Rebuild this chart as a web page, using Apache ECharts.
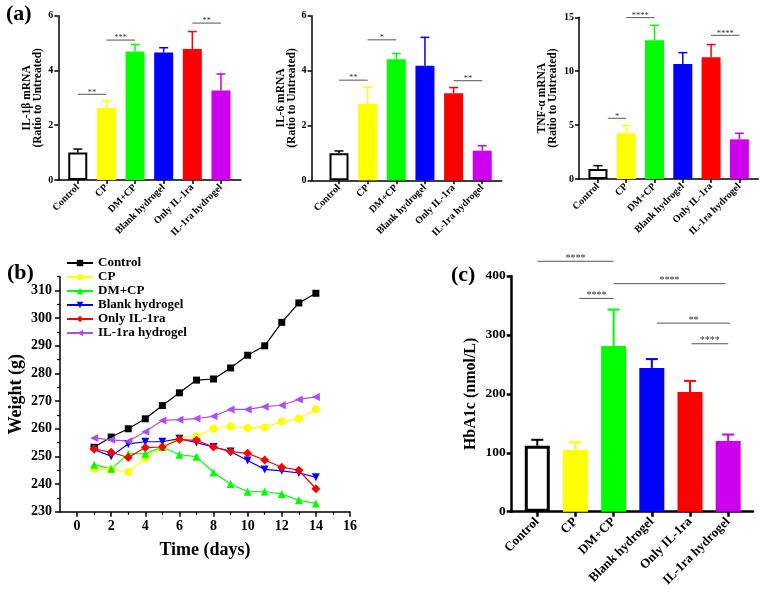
<!DOCTYPE html>
<html><head><meta charset="utf-8">
<script src="https://cdn.jsdelivr.net/npm/echarts@6/dist/echarts.min.js"></script>
<style>html,body{margin:0;padding:0;background:#fff}#c{width:762px;height:592px}</style>
</head><body><div id="c"></div>
<script>
// ---------- data ----------
const categories = ['Control', 'CP', 'DM+CP', 'Blank hydrogel', 'Only IL-1ra', 'IL-1ra hydrogel'];
const barColors = ['#FFFFFF', '#FFFF00', '#00FF00', '#0000FF', '#FF0000', '#CC00EE'];
const errColors = ['#000000', '#FFFF00', '#00FF00', '#0000FF', '#FF0000', '#CC00EE'];

const il1bMean = [1.0, 2.63, 4.69, 4.66, 4.78, 3.27];
const il1bUpper = [1.13, 2.90, 4.95, 4.83, 5.42, 3.87];
const il1bSig = [[0, 1, 3.13, '**'], [1, 2, 5.11, '***'], [4, 5, 5.73, '**']];

const il6Mean = [0.99, 2.78, 4.41, 4.18, 3.17, 1.08];
const il6Upper = [1.07, 3.39, 4.62, 5.21, 3.38, 1.26];
const il6Sig = [[0, 1, 3.65, '**'], [1, 2, 5.12, '*'], [4, 5, 3.63, '**']];

const tnfMean = [0.93, 4.24, 12.87, 10.67, 11.29, 3.68];
const tnfUpper = [1.24, 4.95, 14.26, 11.72, 12.47, 4.24];
const tnfSig = [[0.35, 1, 5.63, '*'], [1, 2, 14.97, '****'], [4, 5, 13.33, '****']];

const hba1cMean = [112, 105, 281, 244, 203, 120];
const hba1cUpper = [122, 118, 343, 259, 222, 131];
const hba1cSig = [[0, 2, 425, '****'], [2, 4.93, 387, '****'], [1.1, 2, 362, '****'], [3.13, 5.05, 320, '**'], [4.04, 5, 285, '****']];

const days = [1, 2, 3, 4, 5, 6, 7, 8, 9, 10, 11, 12, 13, 14];
const wControl = [253.3, 257, 260, 263.6, 268.4, 273, 277.6, 278, 282, 286.6, 290, 298.5, 305.5, 309];
const wCP = [245.5, 245.3, 244.4, 249.3, 253.4, 256.9, 257.2, 260, 260.8, 260.3, 260.5, 262.6, 263.6, 267.1];
const wDMCP = [247, 245.5, 250.9, 251, 253.4, 250.6, 249.9, 244.2, 240, 237.2, 237.3, 236.4, 234.1, 233];
const wBlank = [252.4, 250.1, 254.5, 255.3, 255.3, 256.4, 255, 253.4, 251.8, 248.5, 245.3, 244.8, 244, 242.5];
const wOnly = [252.7, 251.5, 249.6, 253.2, 253.4, 256.1, 255.8, 253.4, 251.8, 251.1, 248.7, 246.1, 245, 238.3];
const wHydro = [256.7, 256, 255.5, 258.9, 263, 263.3, 263.7, 264.5, 267, 267, 268, 268.5, 270.6, 271.5];
const weightTicksX = [0, 2, 4, 6, 8, 10, 12, 14, 16];
const weightMinorX = [1, 3, 5, 7, 9, 11, 13, 15];
const weightTicksY = [230, 240, 250, 260, 270, 280, 290, 300, 310];
const weightMinorY = [235, 245, 255, 265, 275, 285, 295, 305, 315];

// ---------- helpers ----------
const FONT = "'Liberation Serif','Times New Roman',serif";
const catIdx = [0, 1, 2, 3, 4, 5];

const grids = [], xAxes = [], yAxes = [], series = [];

function barPanel(p) {
  const gi = grids.length;
  grids.push(p.grid);
  const xi = xAxes.length, yi = yAxes.length;
  xAxes.push({
    type: 'value', gridIndex: gi, min: p.xMin, max: p.xMax,
    splitLine: { show: false },
    axisLine: { show: true, onZero: false, lineStyle: { color: '#000', width: p.lw } },
    axisTick: { show: true, customValues: catIdx, length: p.tick, lineStyle: { color: '#000', width: p.lw } },
    axisLabel: {
      customValues: catIdx, formatter: v => categories[v], rotate: 45, margin: p.xMargin,
      fontFamily: FONT, fontWeight: 'bold', fontSize: p.xFont, color: '#000'
    }
  });
  yAxes.push({
    type: 'value', gridIndex: gi, min: 0, max: p.yMax, interval: p.yInt,
    splitLine: { show: false },
    axisLine: { show: true, onZero: false, lineStyle: { color: '#000', width: p.lw } },
    axisTick: { show: true, length: p.tick, lineStyle: { color: '#000', width: p.lw } },
    axisLabel: { margin: p.yMargin, fontFamily: FONT, fontWeight: 'bold', fontSize: p.yFont, color: '#000' },
    name: p.name, nameLocation: 'middle', nameGap: p.nameGap,
    nameTextStyle: { fontFamily: FONT, fontWeight: 'bold', fontSize: p.nameFont, lineHeight: p.nameLH, color: '#000' }
  });
  series.push({
    type: 'bar', xAxisIndex: xi, yAxisIndex: yi, barWidth: p.barW, z: 2,
    data: p.mean.map((m, i) => ({
      value: [i, m],
      itemStyle: i === 0 ? { color: '#FFFFFF', borderColor: '#000', borderWidth: p.lw + 0.5 } : { color: barColors[i] }
    }))
  });
  series.push({
    type: 'custom', xAxisIndex: xi, yAxisIndex: yi, z: 3, clip: false,
    encode: { x: 0, y: [1, 2] },
    data: p.mean.map((m, i) => [i, m, p.upper[i]]),
    renderItem: (params, api) => {
      const i = params.dataIndex;
      const a = api.coord([api.value(0), api.value(1)]);
      const b = api.coord([api.value(0), api.value(2)]);
      const st = { stroke: errColors[i], lineWidth: p.errW };
      return {
        type: 'group', children: [
          { type: 'line', shape: { x1: a[0], y1: a[1], x2: b[0], y2: b[1] }, style: st },
          { type: 'line', shape: { x1: b[0] - p.cap, y1: b[1], x2: b[0] + p.cap, y2: b[1] }, style: st }
        ]
      };
    }
  });
  series.push({
    type: 'custom', xAxisIndex: xi, yAxisIndex: yi, z: 4, clip: false,
    encode: { x: [0, 1], y: 2 },
    data: p.sig.map(s => [s[0], s[1], s[2]]),
    renderItem: (params, api) => {
      const i = params.dataIndex;
      const a = api.coord([api.value(0), api.value(2)]);
      const b = api.coord([api.value(1), api.value(2)]);
      return {
        type: 'group', children: [
          { type: 'line', shape: { x1: a[0], y1: a[1], x2: b[0], y2: b[1] }, style: { stroke: '#555', lineWidth: 1 } },
          { type: 'text', style: { text: p.sig[i][3], x: (a[0] + b[0]) / 2, y: a[1] + p.starDy, align: 'center', verticalAlign: 'middle', fontFamily: FONT, fontSize: p.starFont, fill: '#333' } }
        ]
      };
    }
  });
}

barPanel({
  grid: { left: 58.3, top: 15.7, width: 182.7, height: 164.3 }, xMin: -0.68, xMax: 5.7,
  yMax: 6, yInt: 2, mean: il1bMean, upper: il1bUpper, sig: il1bSig,
  name: 'IL-1β mRNA\n(Ratio to Untreated)', nameGap: 14, nameFont: 11.5, nameLH: 11,
  lw: 1.5, tick: 4, xFont: 10, yFont: 10, xMargin: 6, yMargin: 5, barW: 19, cap: 4.5, errW: 1.5, starFont: 8.5, starDy: -2
});
barPanel({
  grid: { left: 311.5, top: 15.7, width: 190.2, height: 164.6 }, xMin: -0.96, xMax: 5.68,
  yMax: 6, yInt: 2, mean: il6Mean, upper: il6Upper, sig: il6Sig,
  name: 'IL-6 mRNA\n(Ratio to Untreated)', nameGap: 12, nameFont: 11.5, nameLH: 11,
  lw: 1.5, tick: 4, xFont: 10, yFont: 10, xMargin: 6, yMargin: 5, barW: 19, cap: 4.5, errW: 1.5, starFont: 8.5, starDy: -2
});
barPanel({
  grid: { left: 579, top: 17.3, width: 179.3, height: 161.7 }, xMin: -0.67, xMax: 5.67,
  yMax: 15, yInt: 5, mean: tnfMean, upper: tnfUpper, sig: tnfSig,
  name: 'TNF-α mRNA\n(Ratio to Untreated)', nameGap: 20, nameFont: 11.5, nameLH: 11,
  lw: 1.5, tick: 4, xFont: 10, yFont: 10, xMargin: 6, yMargin: 5, barW: 19, cap: 4.5, errW: 1.5, starFont: 8.5, starDy: -2
});

// ---------- panel (b) ----------
const gB = grids.length;
grids.push({ left: 60, top: 276.7, width: 290, height: 235 });
const xB = xAxes.length, yB = yAxes.length;
const axisBase = (gi) => ({
  type: 'value', gridIndex: gi, splitLine: { show: false }
});
xAxes.push(Object.assign(axisBase(gB), {
  min: -1, max: 16, position: 'bottom',
  axisLine: { show: true, onZero: false, lineStyle: { color: '#000', width: 1.5 } },
  axisTick: { show: true, customValues: weightTicksX, length: 5, lineStyle: { color: '#000', width: 1.5 } },
  axisLabel: { customValues: weightTicksX, margin: 8, fontFamily: FONT, fontWeight: 'bold', fontSize: 14, color: '#000' },
  name: 'Time (days)', nameLocation: 'middle', nameGap: 30,
  nameTextStyle: { fontFamily: FONT, fontWeight: 'bold', fontSize: 18, color: '#000' }
}));
xAxes.push(Object.assign(axisBase(gB), {
  min: -1, max: 16, position: 'bottom',
  axisLine: { show: false, onZero: false },
  axisTick: { show: true, customValues: weightMinorX, length: 3, lineStyle: { color: '#000', width: 1.2 } },
  axisLabel: { show: false }
}));
yAxes.push(Object.assign(axisBase(gB), {
  min: 230, max: 315, position: 'left',
  axisLine: { show: true, onZero: false, lineStyle: { color: '#000', width: 1.5 } },
  axisTick: { show: true, customValues: weightTicksY, length: 5, lineStyle: { color: '#000', width: 1.5 } },
  axisLabel: { customValues: weightTicksY, margin: 8, fontFamily: FONT, fontWeight: 'bold', fontSize: 14, color: '#000' },
  name: 'Weight (g)', nameLocation: 'middle', nameGap: 35,
  nameTextStyle: { fontFamily: FONT, fontWeight: 'bold', fontSize: 18, color: '#000' }
}));
yAxes.push(Object.assign(axisBase(gB), {
  min: 230, max: 315, position: 'left',
  axisLine: { show: false, onZero: false },
  axisTick: { show: true, customValues: weightMinorY, length: 3, lineStyle: { color: '#000', width: 1.2 } },
  axisLabel: { show: false }
}));
const lineDefs = [
  ['Control', wControl, '#000000', 'rect', 0, 7],
  ['CP', wCP, '#FFFF00', 'circle', 0, 8],
  ['DM+CP', wDMCP, '#00FF00', 'triangle', 0, 8],
  ['Blank hydrogel', wBlank, '#0000FF', 'triangle', 180, 8],
  ['Only IL-1ra', wOnly, '#FF0000', 'diamond', 0, 9],
  ['IL-1ra hydrogel', wHydro, '#B04CF0', 'triangle', 90, 8]
];
lineDefs.forEach(d => {
  series.push({
    type: 'line', name: d[0], xAxisIndex: xB, yAxisIndex: yB,
    data: days.map((x, i) => [x, d[1][i]]),
    symbol: d[3], symbolRotate: d[4], symbolSize: d[5], showAllSymbol: true,
    itemStyle: { color: d[2] }, lineStyle: { color: d[2], width: 1.2 }
  });
});

// ---------- panel (c) ----------
barPanel({
  grid: { left: 511.7, top: 276, width: 241.3, height: 235.7 }, xMin: -0.67, xMax: 5.65,
  yMax: 400, yInt: 100, mean: hba1cMean, upper: hba1cUpper, sig: hba1cSig,
  name: 'HbA1c (nmol/L)', nameGap: 33, nameFont: 16, nameLH: 16,
  lw: 2.5, tick: 5, xFont: 13, yFont: 13.5, xMargin: 8, yMargin: 6, barW: 25, cap: 6, errW: 2, starFont: 10, starDy: -3
});

const chart = echarts.init(document.getElementById('c'), null, { renderer: 'canvas' });
chart.setOption({
  animation: false,
  backgroundColor: '#fff',
  grid: grids,
  xAxis: xAxes,
  yAxis: yAxes,
  legend: {
    data: lineDefs.map(d => d[0]), orient: 'vertical', left: 66, top: 256, padding: 0,
    itemWidth: 26, itemHeight: 8, itemGap: 0,
    textStyle: { fontFamily: FONT, fontWeight: 'bold', fontSize: 13, lineHeight: 14, color: '#000', padding: [0, 0, 0, 0] }
  },
  graphic: [
    { type: 'text', left: 6, top: 3, style: { text: '(a)', fontFamily: FONT, fontWeight: 'bold', fontSize: 22, fill: '#000' } },
    { type: 'text', left: 7, top: 262, style: { text: '(b)', fontFamily: FONT, fontWeight: 'bold', fontSize: 22, fill: '#000' } },
    { type: 'text', left: 451, top: 264, style: { text: '(c)', fontFamily: FONT, fontWeight: 'bold', fontSize: 22, fill: '#000' } }
  ],
  series: series
});
</script></body></html>
